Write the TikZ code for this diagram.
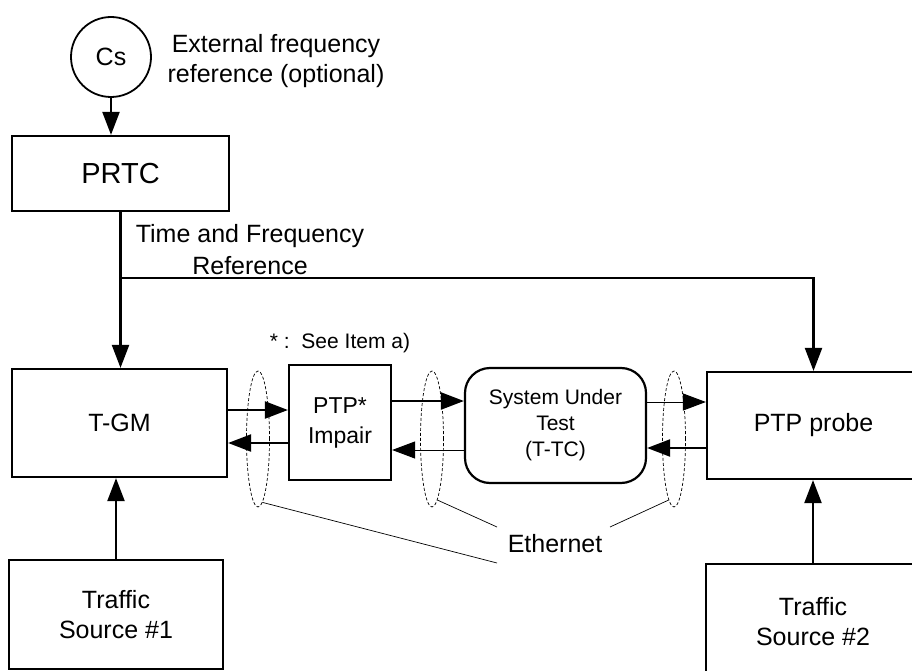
\documentclass[tikz,border=0pt]{standalone}
\usepackage{fontspec}
\setmainfont{Liberation Sans}
\usetikzlibrary{arrows.meta,shapes.geometric}
\begin{document}
\begin{tikzpicture}[x=1pt,y=-1pt,
  box/.style={draw,line width=2.2pt,rectangle,inner sep=0pt,align=center,font=\fontsize{25}{30}\selectfont},
  lbl/.style={inner sep=0pt,align=center,font=\fontsize{25}{30}\selectfont},
  arr/.style={line width=2.2pt,-{Triangle[length=23pt,width=17pt]}},
  thinarr/.style={line width=1pt,-{Triangle[length=23pt,width=17pt]}},
  ethring/.style={draw,ellipse,dash pattern=on 3pt off 2pt,line width=0.7pt,inner sep=0pt,minimum width=23pt,minimum height=136pt},
  ethline/.style={line width=0.7pt}]
\useasboundingbox (0,0) rectangle (912,671);
\clip (0,0) rectangle (912,671);

% helper levels
\coordinate (y278) at (0,278);
\coordinate (ya) at (0,410);
\coordinate (yb) at (0,443);
\coordinate (yc) at (0,401);
\coordinate (yd) at (0,450);
\coordinate (ye) at (0,402);
\coordinate (yf) at (0,448);

% nodes
\node[draw,circle,line width=1.8pt,minimum size=80pt,inner sep=0pt,font=\fontsize{25}{30}\selectfont] (cs) at (111,57) {Cs};
\node[lbl] (ext) at (276,61.5) {External frequency\\reference (optional)};
\node[box,minimum width=217pt,minimum height=75pt,font=\fontsize{29}{34}\selectfont] (prtc) at (120.5,173.5) {PRTC};
\node[lbl,font=\fontsize{25}{32}\selectfont] (tf) at (250,249.7) {Time and Frequency\\Reference};

\node[box,minimum width=215pt,minimum height=108pt] (tgm) at (119.5,423) {T-GM};
\node[box,minimum width=214pt,minimum height=109pt] (ts1) at (116,614.5) {Traffic\\Source \#1};
\node[box,minimum width=102pt,minimum height=115pt,font=\fontsize{23}{30}\selectfont] (imp) at (340,422.5) {PTP*\\Impair};
\node[box,rounded corners=25pt,minimum width=181pt,minimum height=115pt,font=\fontsize{21}{26}\selectfont] (sut) at (555.5,425.5) {System Under\\Test\\(T-TC)};
\node[box,minimum width=213pt,minimum height=107pt] (probe) at (813.5,425.5) {PTP probe};
\node[box,minimum width=214pt,minimum height=116pt] (ts2) at (813,622) {Traffic\\Source \#2};

\node[inner sep=0pt,font=\fontsize{21}{25}\selectfont] (star) at (340,343.5) {*~:~~See Item a)};
\node[lbl] (eth) at (555,543.5) {Ethernet};

\node[ethring] (e1) at (258,439) {};
\node[ethring] (e2) at (432,439) {};
\node[ethring] (e3) at (674,439) {};

\coordinate (l1) at (497,563);
\coordinate (l2) at (497,527);
\coordinate (l3) at (610,527);

% connectors
\draw[arr] (cs.south) -- (cs.south |- prtc.north);
\draw[arr] (prtc.south) -- (prtc.south |- tgm.north);
\coordinate (br) at (prtc.south |- y278);
\draw[arr] (br) -| (probe.north);
\draw[arr] (ts1.north) -- (ts1.north |- tgm.south);
\draw[arr] (ts2.north) -- (ts2.north |- probe.south);

\draw[arr] (tgm.east |- ya) -- (imp.west |- ya);
\draw[arr] (imp.west |- yb) -- (tgm.east |- yb);
\draw[arr] (imp.east |- yc) -- (sut.west |- yc);
\draw[thinarr] (sut.west |- yd) -- (imp.east |- yd);
\draw[thinarr] (sut.east |- ye) -- (probe.west |- ye);
\draw[arr] (probe.west |- yf) -- (sut.east |- yf);

\draw[ethline] (e1.-86) -- (l1);
\draw[ethline] (e2.-85) -- (l2);
\draw[ethline] (e3.-95) -- (l3);
\end{tikzpicture}
\end{document}
